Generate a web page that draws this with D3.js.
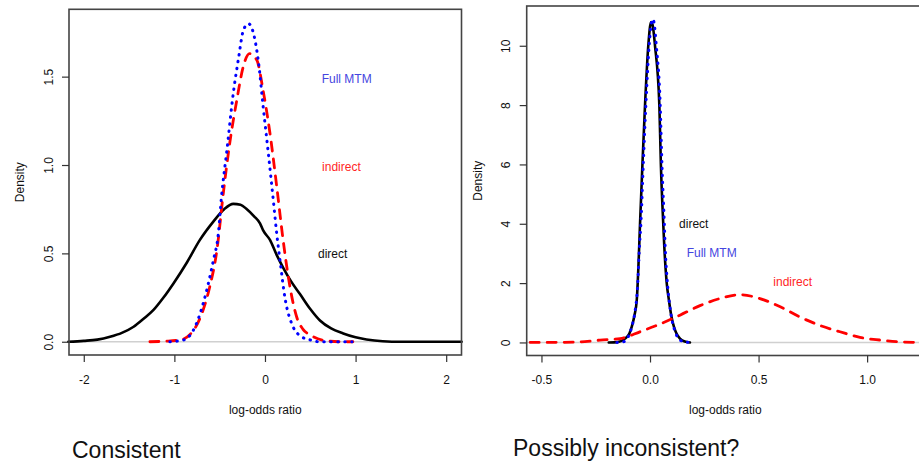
<!DOCTYPE html>
<html>
<head>
<meta charset="utf-8">
<script src="https://cdn.jsdelivr.net/npm/d3@7"></script>
<style>
  body { margin: 0; background: #fff; }
  svg { display: block; font-family: "Liberation Sans", Arial, sans-serif; }
  .tick text { font-size: 12px; fill: #111; }
  .tick line { stroke: #333; stroke-width: 1.2; }
</style>
</head>
<body>
<div id="chart"></div>
<script>
// ---- data ----
// left panel ("Consistent"): [log-odds ratio, density]
var leftDirect = [[-2.17,0],[-2.0,0.005],[-1.85,0.012],[-1.71,0.028],[-1.58,0.05],[-1.45,0.085],[-1.34,0.13],
  [-1.23,0.18],[-1.12,0.25],[-1.01,0.33],[-0.86,0.45],[-0.72,0.575],[-0.57,0.68],[-0.45,0.75],[-0.35,0.78],
  [-0.27,0.775],[-0.2,0.75],[-0.12,0.71],[-0.055,0.67],[-0.02,0.63],[0.055,0.576],[0.13,0.49],[0.2,0.42],
  [0.29,0.34],[0.386,0.27],[0.5,0.185],[0.607,0.12],[0.73,0.075],[0.864,0.047],[1.0,0.025],[1.12,0.013],
  [1.3,0.003],[1.5,0],[2.17,0]];
var leftIndirect = [[-1.27,0],[-1.1,0.003],[-0.94,0.01],[-0.83,0.04],[-0.72,0.13],[-0.61,0.31],[-0.53,0.52],
  [-0.46,0.84],[-0.39,1.12],[-0.31,1.37],[-0.24,1.556],[-0.17,1.63],[-0.09,1.594],[-0.02,1.42],[0.055,1.18],
  [0.13,0.877],[0.2,0.576],[0.276,0.31],[0.35,0.14],[0.42,0.07],[0.5,0.038],[0.68,0.005],[0.83,0],[0.97,0]];
var leftFull = [[-1.05,0],[-0.9,0.01],[-0.79,0.066],[-0.68,0.22],[-0.57,0.46],[-0.515,0.61],[-0.48,0.82],
  [-0.42,1.085],[-0.35,1.405],[-0.29,1.61],[-0.24,1.76],[-0.183,1.8],[-0.127,1.745],[-0.07,1.575],[-0.02,1.33],
  [0.037,1.066],[0.092,0.8],[0.13,0.61],[0.166,0.46],[0.22,0.25],[0.31,0.085],[0.4,0.03],[0.5,0.01],[0.6,0],[0.96,0]];

// right panel ("Possibly inconsistent?")
var rightDirect = [[-0.19,0],[-0.15,0.01],[-0.115,0.13],[-0.095,0.3],[-0.084,0.53],[-0.072,0.9],[-0.061,1.43],
  [-0.05,3.2],[-0.046,4],[-0.035,6],[-0.023,8],[-0.008,10],[0.005,10.8],[0.012,10.7],[0.023,10],[0.043,8],
  [0.05,6],[0.061,4],[0.066,3.2],[0.077,2.0],[0.087,1.43],[0.098,0.9],[0.11,0.53],[0.122,0.3],[0.138,0.13],
  [0.16,0.03],[0.184,0]];
var rightFull = [[-0.153,0],[-0.12,0.03],[-0.1,0.2],[-0.085,0.5],[-0.07,1.0],[-0.058,1.8],[-0.048,3.3],[-0.042,4],
  [-0.031,6],[-0.019,8],[-0.004,10],[0.012,10.9],[0.018,10.8],[0.029,10],[0.047,8],[0.055,6],[0.066,4],
  [0.07,3.2],[0.078,2.2],[0.09,1.3],[0.1,0.8],[0.112,0.45],[0.125,0.2],[0.145,0.05],[0.165,0.01],[0.184,0]];
var rightIndirect = [[-0.552,0],[-0.4,0.005],[-0.3,0.03],[-0.23,0.08],[-0.138,0.13],[-0.046,0.36],[0.046,0.62],
  [0.138,0.92],[0.23,1.24],[0.322,1.48],[0.414,1.61],[0.506,1.48],[0.6,1.2],[0.69,0.86],[0.78,0.58],
  [0.875,0.36],[0.967,0.17],[1.06,0.08],[1.15,0.02],[1.262,0]];

// ticks and texts
var leftXTicks = [-2, -1, 0, 1, 2];
var leftYTicks = [0, 0.5, 1, 1.5];
var rightXTicks = [-0.5, 0, 0.5, 1.0];
var rightYTicks = [0, 2, 4, 6, 8, 10];
var seriesNames = ["direct", "indirect", "Full MTM"];
var titles = ["Consistent", "Possibly inconsistent?"];

var W = 919, H = 464;
var svg = d3.select("#chart").append("svg").attr("width", W).attr("height", H);

// R prints a plain hyphen for negatives, d3 uses the unicode minus
function fmt(spec) {
  var f = d3.format(spec);
  return function(d) { return f(d).replace("\u2212", "-"); };
}

var styles = {
  "direct":   { color: "#000", width: 2.6, dash: null, text: "#111" },
  "indirect": { color: "#ff0000", width: 2.8, dash: "9,8", text: "#ff2626" },
  "Full MTM": { color: "#0000ff", width: 3, dash: "0.5,6.5", text: "#4545e0" }
};

var panels = [
  { box: [69, 9.3, 461.5, 355], xdom: [-2.163, 2.169], ydom: [-0.075, 1.881],
    xt: leftXTicks, yt: leftYTicks, xfmt: fmt("d"), yfmt: fmt(".1f"),
    series: { "direct": leftDirect, "indirect": leftIndirect, "Full MTM": leftFull },
    labels: { "Full MTM": [0.626, 1.49], "indirect": [0.63, 0.99], "direct": [0.585, 0.497] },
    title: titles[0], titleX: 72, titleY: 458 },
  { box: [526.7, 6, 924, 355.5], xdom: [-0.568, 1.262], ydom: [-0.44, 11.34],
    xt: rightXTicks, yt: rightYTicks, xfmt: fmt(".1f"), yfmt: fmt("d"),
    series: { "direct": rightDirect, "indirect": rightIndirect, "Full MTM": rightFull },
    labels: { "direct": [0.134, 4.0], "Full MTM": [0.169, 3.03], "indirect": [0.568, 2.05] },
    title: titles[1], titleX: 513, titleY: 456 }
];

panels.forEach(function(p) {
  var x = d3.scaleLinear().domain(p.xdom).range([p.box[0], p.box[2]]);
  var y = d3.scaleLinear().domain(p.ydom).range([p.box[3], p.box[1]]);
  var g = svg.append("g");

  // zero reference line
  g.append("line")
    .attr("x1", p.box[0]).attr("x2", p.box[2])
    .attr("y1", y(0)).attr("y2", y(0))
    .attr("stroke", "#d0d0d0").attr("stroke-width", 1.6);

  var line = d3.line()
    .x(function(d) { return x(d[0]); })
    .y(function(d) { return y(d[1]); })
    .curve(d3.curveMonotoneX);

  ["direct", "indirect", "Full MTM"].forEach(function(name) {
    var s = styles[name];
    g.append("path")
      .datum(p.series[name])
      .attr("d", line)
      .attr("fill", "none")
      .attr("stroke", s.color)
      .attr("stroke-width", s.width)
      .attr("stroke-linecap", "round")
      .attr("stroke-linejoin", "round")
      .attr("stroke-dasharray", s.dash);
  });

  // box
  g.append("rect")
    .attr("x", p.box[0]).attr("y", p.box[1])
    .attr("width", p.box[2] - p.box[0]).attr("height", p.box[3] - p.box[1])
    .attr("fill", "none").attr("stroke", "#444").attr("stroke-width", 1.6);

  // axes
  var xa = g.append("g")
    .attr("transform", "translate(0," + p.box[3] + ")")
    .call(d3.axisBottom(x).tickValues(p.xt).tickFormat(p.xfmt).tickSize(7).tickPadding(13));
  xa.select(".domain").remove();

  var ya = g.append("g")
    .attr("transform", "translate(" + p.box[0] + ",0)")
    .call(d3.axisLeft(y).tickValues(p.yt).tickFormat(p.yfmt).tickSize(7));
  ya.select(".domain").remove();
  ya.selectAll(".tick text")
    .attr("x", 0).attr("dy", "0.35em")
    .attr("text-anchor", "middle")
    .attr("transform", "translate(-20.5,0) rotate(-90)");

  // axis titles
  var cx = (p.box[0] + p.box[2]) / 2, cy = (p.box[1] + p.box[3]) / 2;
  g.append("text")
    .attr("x", cx).attr("y", 414)
    .attr("text-anchor", "middle").attr("font-size", 12).attr("fill", "#111")
    .text("log-odds ratio");
  g.append("text")
    .attr("transform", "translate(" + (p.box[0] - 45) + "," + cy + ") rotate(-90)")
    .attr("text-anchor", "middle").attr("font-size", 12).attr("fill", "#111")
    .text("Density");

  // series labels
  seriesNames.forEach(function(name) {
    var pos = p.labels[name];
    g.append("text")
      .attr("x", x(pos[0])).attr("y", y(pos[1]))
      .attr("dy", "0.35em")
      .attr("font-size", 12)
      .attr("fill", styles[name].text)
      .text(name);
  });

  // panel caption
  g.append("text")
    .attr("x", p.titleX).attr("y", p.titleY)
    .attr("font-size", 23).attr("fill", "#111")
    .text(p.title);
});
</script>
</body>
</html>
